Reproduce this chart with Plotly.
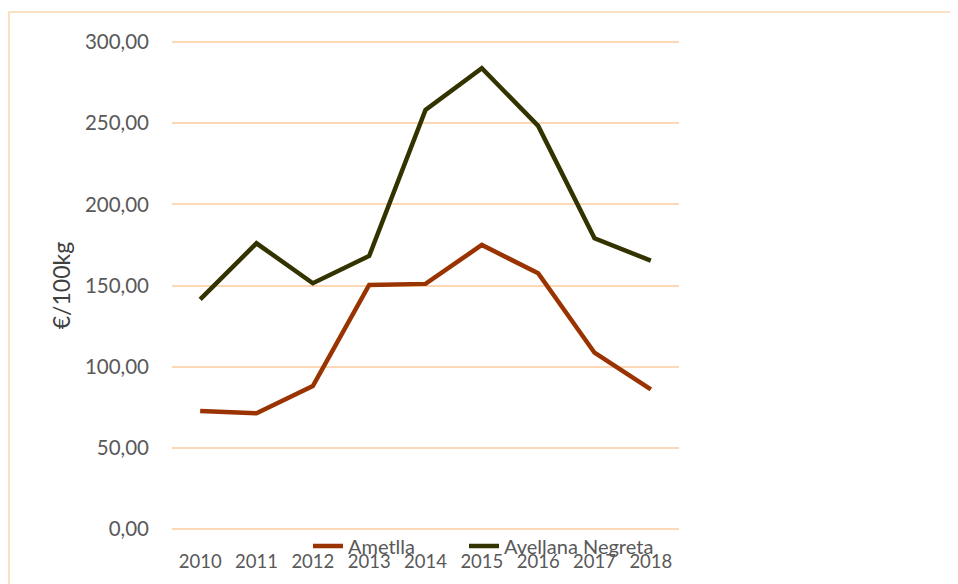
import plotly.graph_objects as go

years = ["2010", "2011", "2012", "2013", "2014", "2015", "2016", "2017", "2018"]
ametlla = [72.7, 71.3, 88.1, 150.3, 151.0, 175.0, 157.5, 108.6, 86.0]
avellana_negreta = [141.5, 176.0, 151.4, 168.2, 258.2, 283.8, 248.3, 179.1, 165.3]
y_ticks = [0, 50, 100, 150, 200, 250, 300]

OFF = 8  # page body margin
W, H = 958 - OFF, 584 - OFF
EXT = 2  # extend plot vertically so edge gridlines are drawn
L, T = 172 - OFF, 42 - OFF - EXT
R = W - L - 507
B = H - T - (487 + 2 * EXT)
pw, ph = W - L - R, H - T - B
unit_pad = 300 * EXT / 487

def px_x(p):
    return (p - OFF - L) / pw

def px_y(p):
    return (H - B - (p - OFF)) / ph

FONT = "Lato"
fig = go.Figure()
fig.add_trace(go.Scatter(x=years, y=ametlla, name="Ametlla", mode="lines",
                         line=dict(color="#993300", width=4.5), legend="legend"))
fig.add_trace(go.Scatter(x=years, y=avellana_negreta, name="Avellana Negreta", mode="lines",
                         line=dict(color="#333300", width=4.5), legend="legend2"))

fig.add_shape(type="rect", xref="paper", yref="paper",
              x0=px_x(9), x1=px_x(1000), y0=px_y(640), y1=px_y(12),
              line=dict(color="#FAD8B0", width=1.5), fillcolor="rgba(0,0,0,0)", layer="below")

leg_common = dict(orientation="h", xanchor="left", yanchor="middle",
                  font=dict(family=FONT, size=20, color="#595959"),
                  bgcolor="rgba(0,0,0,0)")
fig.update_layout(
    width=W, height=H,
    margin=dict(l=L, r=R, t=T, b=B, pad=0),
    paper_bgcolor="white", plot_bgcolor="white",
    separators=",.",
    showlegend=True,
    legend=dict(x=px_x(308), y=px_y(546), **leg_common),
    legend2=dict(x=px_x(464), y=px_y(546), **leg_common),
    xaxis=dict(type="category", range=[-0.5, 8.5], showgrid=False, zeroline=False,
               showline=False, ticks="", ticklabelstandoff=17,
               tickfont=dict(family=FONT, size=18.5, color="#595959")),
    yaxis=dict(range=[-unit_pad, 300 + unit_pad], tickvals=y_ticks, tickformat=".2f", showgrid=True,
               gridcolor="#FCD9B4", gridwidth=1.5, zeroline=False, showline=False, ticks="",
               tickfont=dict(family=FONT, size=20.5, color="#595959"), ticklabelstandoff=22,
               title=dict(text="€/100kg", font=dict(family=FONT, size=23, color="#404040"), standoff=7)),
)
fig.write_html("out.html")
